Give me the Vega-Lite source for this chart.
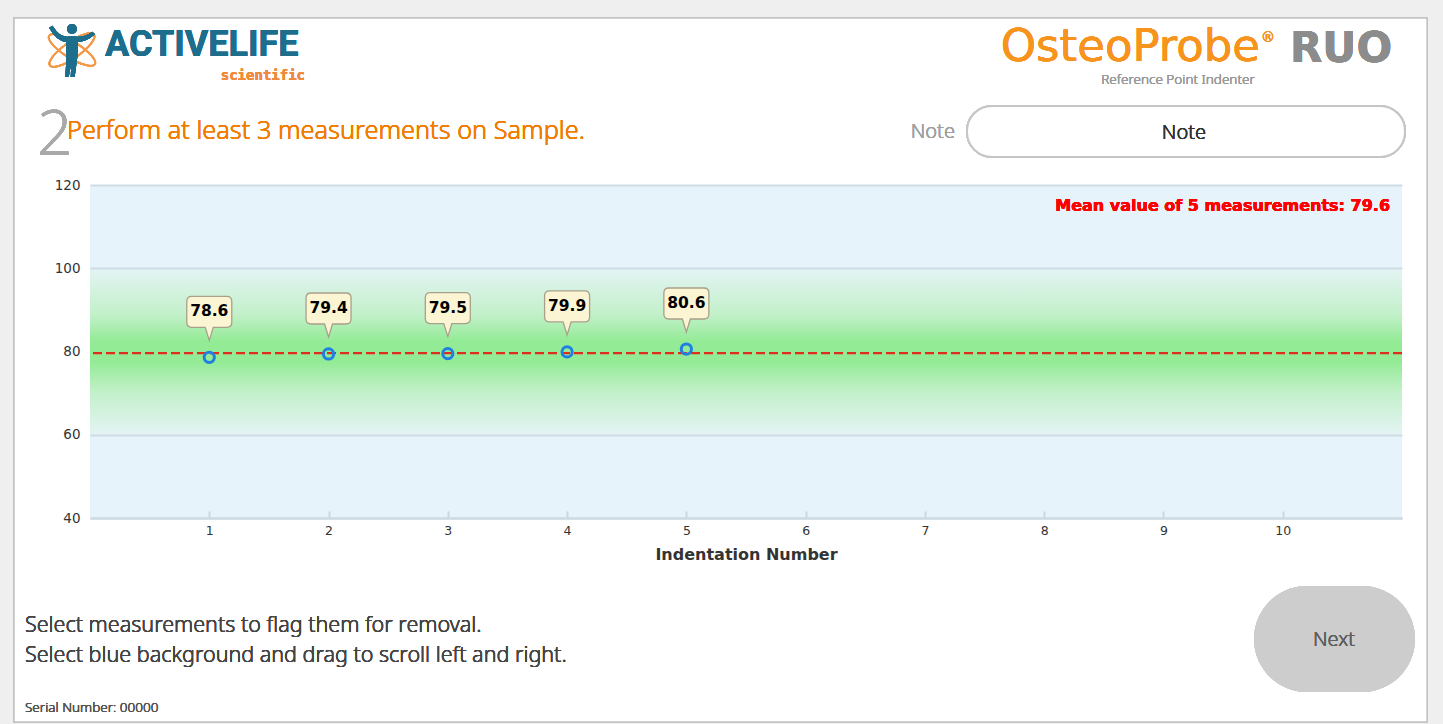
{
  "$schema": "https://vega.github.io/schema/vega-lite/v6.json",
  "autosize": {"type": "none"},
  "padding": {"left": 90, "top": 185, "right": 41, "bottom": 206},
  "width": 1312,
  "height": 333,
  "background": "#efefef",
  "config": {"view": {"stroke": null}},
  "datasets": {
    "measurements": [
      {"n": 1, "value": 78.6},
      {"n": 2, "value": 79.4},
      {"n": 3, "value": 79.5},
      {"n": 4, "value": 79.9},
      {"n": 5, "value": 80.6}
    ]
  },
  "data": {"name": "measurements"},
  "layer": [
    {
      "mark": {"type": "rect", "fill": "#ffffff", "stroke": "#c4c4c4", "strokeWidth": 1.5, "clip": false},
      "encoding": {
        "x": {"datum": -0.637}, "x2": {"datum": 11.21},
        "y": {"datum": 160.12}, "y2": {"datum": -9.01}
      }
    },
    {
      "mark": {"type": "rect", "fill": "#e6f3fa"},
      "encoding": {
        "x": {"datum": 0}, "x2": {"datum": 11},
        "y": {"datum": 120}, "y2": {"datum": 40}
      }
    },
    {
      "mark": {
        "type": "rect",
        "fill": {
          "gradient": "linear", "x1": 0, "y1": 0, "x2": 0, "y2": 1,
          "stops": [
            {"offset": 0, "color": "#e4f4f5"},
            {"offset": 0.28, "color": "#c2f0c9"},
            {"offset": 0.44, "color": "#93eb95"},
            {"offset": 0.56, "color": "#93eb95"},
            {"offset": 0.74, "color": "#c2f0c9"},
            {"offset": 1, "color": "#e4f4f5"}
          ]
        }
      },
      "encoding": {
        "x": {"datum": 0}, "x2": {"datum": 11},
        "y": {"datum": 100}, "y2": {"datum": 60}
      }
    },
    {
      "mark": {"type": "rule", "color": "#dd2e1c", "strokeWidth": 2.2, "strokeDash": [9, 4]},
      "encoding": {
        "y": {"aggregate": "mean", "field": "value", "type": "quantitative"}
      }
    },
    {
      "mark": {"type": "point", "filled": false, "stroke": "#1f7fe3", "strokeWidth": 3, "size": 105, "opacity": 1},
      "encoding": {
        "x": {
          "field": "n", "type": "quantitative",
          "scale": {"domain": [0, 11], "nice": false, "zero": false},
          "axis": {
            "values": [1, 2, 3, 4, 5, 6, 7, 8, 9, 10],
            "format": "d",
            "grid": false,
            "zindex": 1,
            "domainColor": "#cfdbe3",
            "domainWidth": 2.5,
            "tickColor": "#cdd6dd",
            "tickWidth": 2,
            "tickSize": -7,
            "labelPadding": 13,
            "labelFont": "DejaVu Sans",
            "labelFontSize": 12.5,
            "labelColor": "#333333",
            "title": "Indentation Number",
            "titleFont": "DejaVu Sans",
            "titleFontSize": 16,
            "titleFontWeight": "bold",
            "titleColor": "#333333",
            "titlePadding": 10
          }
        },
        "y": {
          "field": "value", "type": "quantitative",
          "scale": {"domain": [40, 120], "nice": false, "zero": false},
          "axis": {
            "values": [40, 60, 80, 100, 120],
            "domain": false,
            "ticks": false,
            "zindex": 1,
            "grid": true,
            "gridColor": "#cfdce4",
            "gridWidth": 2,
            "gridOpacity": {"condition": {"test": "datum.value === 80", "value": 0}, "value": 1},
            "labelPadding": 10,
            "labelFont": "DejaVu Sans",
            "labelFontSize": 13.5,
            "labelColor": "#333333",
            "title": null
          }
        }
      }
    },
    {
      "mark": {
        "type": "point",
        "shape": "M0,-1.7 L-0.4,-3.0 L-1.75,-3.0 Q-2.25,-3.0 -2.25,-3.5 L-2.25,-5.6 Q-2.25,-6.1 -1.75,-6.1 L1.75,-6.1 Q2.25,-6.1 2.25,-5.6 L2.25,-3.5 Q2.25,-3.0 1.75,-3.0 L0.4,-3.0 Z",
        "size": 400,
        "filled": true,
        "fill": "#fcf5d3",
        "stroke": "#a9a08b",
        "strokeWidth": 1.3,
        "opacity": 1
      },
      "encoding": {
        "x": {"field": "n", "type": "quantitative"},
        "y": {"field": "value", "type": "quantitative"}
      }
    },
    {
      "mark": {"type": "text", "dy": -46, "baseline": "middle", "align": "center", "font": "DejaVu Sans", "fontSize": 15.5, "fontWeight": "bold", "color": "#000000"},
      "encoding": {
        "x": {"field": "n", "type": "quantitative"},
        "y": {"field": "value", "type": "quantitative"},
        "text": {"field": "value", "type": "quantitative", "format": ".1f"}
      }
    },
    {
      "mark": {"type": "text", "align": "right", "baseline": "middle", "font": "DejaVu Sans", "fontSize": 16, "fontWeight": "bold", "color": "#ff0000", "text": "Mean value of 5 measurements: 79.6"},
      "encoding": {"x": {"datum": 10.9}, "y": {"datum": 114.95}}
    },
    {
      "mark": {"type": "text", "align": "left", "baseline": "alphabetic", "font": "Noto Sans", "fontWeight": 300, "fontSize": 62, "color": "#a9a9a9", "text": "2", "clip": false},
      "encoding": {"x": {"datum": -0.444}, "y": {"datum": 127.21}}
    },
    {
      "mark": {"type": "text", "align": "left", "baseline": "middle", "font": "Noto Sans", "fontWeight": 300, "fontSize": 25.3, "color": "#f07c00", "text": "Perform at least 3 measurements on Sample.", "clip": false},
      "encoding": {"x": {"datum": -0.193}, "y": {"datum": 132.97}}
    },
    {
      "mark": {"type": "text", "align": "right", "baseline": "middle", "font": "Noto Sans", "fontWeight": 300, "fontSize": 20, "color": "#a0a0a0", "text": "Note", "clip": false},
      "encoding": {"x": {"datum": 7.252}, "y": {"datum": 132.73}}
    },
    {
      "mark": {"type": "rect", "fill": "#ffffff", "stroke": "#c6c6c6", "strokeWidth": 2, "cornerRadius": 25, "clip": false},
      "encoding": {
        "x": {"datum": 7.353}, "x2": {"datum": 11.025},
        "y": {"datum": 138.98}, "y2": {"datum": 126.73}
      }
    },
    {
      "mark": {"type": "text", "align": "center", "baseline": "middle", "font": "Noto Sans", "fontWeight": 300, "fontSize": 20, "color": "#333333", "text": "Note", "clip": false},
      "encoding": {"x": {"datum": 9.172}, "y": {"datum": 132.49}}
    },
    {
      "mark": {"type": "point", "shape": "M-1,0 A1,0.3 0 1,0 1,0 A1,0.3 0 1,0 -1,0 Z", "size": 2916, "angle": 32, "filled": false, "stroke": "#f39a4a", "strokeWidth": 1.8, "opacity": 1, "clip": false},
      "encoding": {"x": {"datum": -0.151}, "y": {"datum": 152.43}}
    },
    {
      "mark": {"type": "point", "shape": "M-1,0 A1,0.3 0 1,0 1,0 A1,0.3 0 1,0 -1,0 Z", "size": 2916, "angle": -35, "filled": false, "stroke": "#f39a4a", "strokeWidth": 1.8, "opacity": 1, "clip": false},
      "encoding": {"x": {"datum": -0.151}, "y": {"datum": 152.43}}
    },
    {
      "mark": {"type": "point", "shape": "M-0.85,-0.82 L-0.72,-0.9 Q-0.45,-0.45 -0.12,-0.5 L0.12,-0.5 Q0.45,-0.45 0.75,-0.68 L0.85,-0.58 Q0.5,-0.28 0.22,-0.3 L0.2,0.25 L0.1,1.0 L-0.05,1.0 L-0.02,0.45 L-0.12,1.0 L-0.25,1.0 L-0.2,0.25 L-0.22,-0.3 Q-0.55,-0.3 -0.85,-0.82 Z M0.18,-0.78 A0.18,0.18 0 1,0 -0.18,-0.78 A0.18,0.18 0 1,0 0.18,-0.78 Z", "size": 2916, "filled": true, "fill": "#1c6e8c", "stroke": null, "opacity": 1, "clip": false},
      "encoding": {"x": {"datum": -0.151}, "y": {"datum": 152.43}}
    },
    {
      "mark": {"type": "text", "align": "left", "baseline": "alphabetic", "font": "Roboto", "fontSize": 36, "fontWeight": "bold", "color": "#1c6e8c", "text": "ACTIVELIFE", "clip": false},
      "encoding": {"x": {"datum": 0.126}, "y": {"datum": 151.0}}
    },
    {
      "mark": {"type": "text", "align": "right", "baseline": "alphabetic", "font": "DejaVu Sans Mono", "fontSize": 14, "fontWeight": "bold", "color": "#f08a3c", "text": "scientific", "clip": false},
      "encoding": {"x": {"datum": 1.803}, "y": {"datum": 145.23}}
    },
    {
      "mark": {"type": "text", "align": "right", "baseline": "alphabetic", "font": "DejaVu Sans", "fontSize": 45, "color": "#f7941e", "text": "OsteoProbe", "clip": false},
      "encoding": {"x": {"datum": 9.81}, "y": {"datum": 149.79}}
    },
    {
      "mark": {"type": "text", "align": "center", "baseline": "alphabetic", "font": "DejaVu Sans", "fontSize": 14, "color": "#f7941e", "text": "®", "clip": false},
      "encoding": {"x": {"datum": 9.877}, "y": {"datum": 154.35}}
    },
    {
      "mark": {"type": "text", "align": "left", "baseline": "alphabetic", "font": "DejaVu Sans", "fontSize": 42, "fontWeight": "bold", "color": "#8c8c8c", "text": "RUO", "clip": false},
      "encoding": {"x": {"datum": 10.061}, "y": {"datum": 149.55}}
    },
    {
      "mark": {"type": "text", "align": "center", "baseline": "alphabetic", "font": "Noto Sans", "fontWeight": 300, "fontSize": 13.5, "color": "#9a9a9a", "text": "Reference Point Indenter", "clip": false},
      "encoding": {"x": {"datum": 9.122}, "y": {"datum": 144.26}}
    },
    {
      "mark": {"type": "text", "align": "left", "baseline": "middle", "font": "Noto Sans", "fontWeight": 300, "fontSize": 21.5, "color": "#444444", "text": "Select measurements to flag them for removal.", "clip": false},
      "encoding": {"x": {"datum": -0.545}, "y": {"datum": 14.05}}
    },
    {
      "mark": {"type": "text", "align": "left", "baseline": "middle", "font": "Noto Sans", "fontWeight": 300, "fontSize": 21.5, "color": "#444444", "text": "Select blue background and drag to scroll left and right.", "clip": false},
      "encoding": {"x": {"datum": -0.545}, "y": {"datum": 6.85}}
    },
    {
      "mark": {"type": "text", "align": "left", "baseline": "middle", "font": "Noto Sans", "fontWeight": 300, "fontSize": 13.5, "color": "#555555", "text": "Serial Number: 00000", "clip": false},
      "encoding": {"x": {"datum": -0.545}, "y": {"datum": -5.65}}
    },
    {
      "mark": {"type": "rect", "fill": "#cdcdcd", "cornerRadius": 53, "clip": false},
      "encoding": {
        "x": {"datum": 9.759}, "x2": {"datum": 11.109},
        "y": {"datum": 23.66}, "y2": {"datum": -1.8}
      }
    },
    {
      "mark": {"type": "text", "align": "center", "baseline": "middle", "font": "Noto Sans", "fontWeight": 300, "fontSize": 20, "color": "#606060", "text": "Next", "clip": false},
      "encoding": {"x": {"datum": 10.43}, "y": {"datum": 10.69}}
    }
  ]
}
